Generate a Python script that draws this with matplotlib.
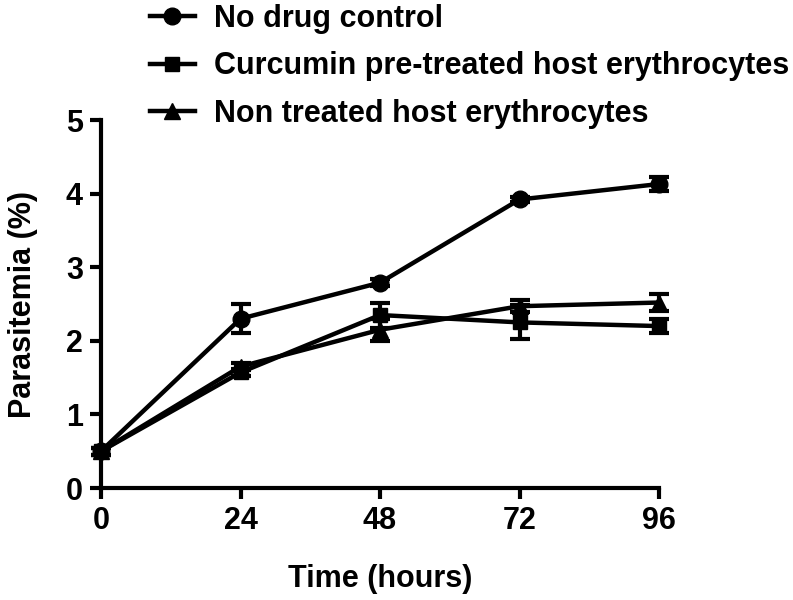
import matplotlib
matplotlib.use("Agg")

import matplotlib.pyplot as plt

plt.rcParams["font.family"] = ["Liberation Sans", "DejaVu Sans"]
plt.rcParams["font.weight"] = "bold"

# data
time_h = [0, 24, 48, 72, 96]

no_drug = [0.5, 2.30, 2.79, 3.92, 4.13]
no_drug_err = [0.05, 0.20, 0.05, 0.04, 0.10]

curcumin = [0.5, 1.57, 2.35, 2.25, 2.20]
curcumin_err = [0.05, 0.05, 0.17, 0.23, 0.10]

non_treated = [0.5, 1.65, 2.15, 2.47, 2.52]
non_treated_err = [0.05, 0.05, 0.15, 0.08, 0.12]

labels = [
    "No drug control",
    "Curcumin pre-treated host erythrocytes",
    "Non treated host erythrocytes",
]

FS = 22

fig = plt.figure(figsize=(7.93, 6.0), dpi=100)
ax = fig.add_axes([101 / 793, 1 - 488 / 600, 558 / 793, 368 / 600])

series = [
    (no_drug, no_drug_err, "o", 12),
    (curcumin, curcumin_err, "s", 10),
    (non_treated, non_treated_err, "^", 11),
]
handles = []
for (vals, errs, mk, ms), lab in zip(series, labels):
    h = ax.errorbar(
        time_h, vals, yerr=errs,
        color="black", marker=mk, markersize=ms, linewidth=3.2,
        elinewidth=3, capsize=7, capthick=3,
        clip_on=False, zorder=3, label=lab,
    )
    h.lines[0].set_clip_on(False)
    handles.append(h)

ax.set_xlim(0, 96)
ax.set_ylim(0, 5)
ax.set_xticks(time_h)
ax.set_yticks([0, 1, 2, 3, 4, 5])

for side in ["top", "right"]:
    ax.spines[side].set_visible(False)
for side in ["left", "bottom"]:
    ax.spines[side].set_linewidth(3)

ax.tick_params(width=3, length=8, labelsize=FS, pad=5)
for t in ax.get_xticklabels() + ax.get_yticklabels():
    t.set_fontweight("bold")

ax.set_xlabel("Time (hours)", fontsize=FS, fontweight="bold", labelpad=20)
ax.set_ylabel("Parasitemia (%)", fontsize=FS, fontweight="bold", labelpad=20)

leg = fig.legend(
    handles=[h.lines[0] for h in handles], labels=labels,
    loc="upper left", bbox_to_anchor=(122 / 793, 1.04),
    frameon=False, handlelength=1.5,
    labelspacing=0.58, handletextpad=0.6,
    prop={"weight": "bold", "size": FS},
)

fig.savefig("out.png", dpi=100)
